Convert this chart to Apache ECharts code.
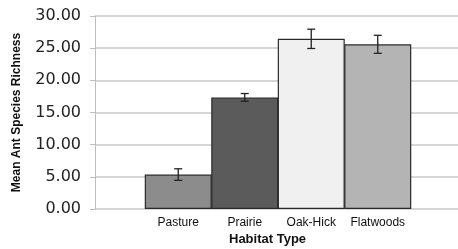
<!DOCTYPE html>
<html>
<head>
<meta charset="utf-8">
<title>Ant species richness</title>
<script src="https://cdn.jsdelivr.net/npm/echarts@6/dist/echarts.min.js"></script>
<style>
  html, body { margin: 0; padding: 0; background: #fff; }
  #main { width: 458px; height: 249px; }
</style>
</head>
<body>
<div id="main"></div>
<script>
// data
var habitats = ['Pasture', 'Prairie', 'Oak-Hick', 'Flatwoods'];
var meanRichness = [5.35, 17.35, 26.45, 25.6];
var stdErr = [0.9, 0.6, 1.5, 1.4];
var barColors = ['#8c8c8c', '#5b5b5b', '#f0f0f0', '#b4b4b4'];
var yTicks = [0, 5, 10, 15, 20, 25, 30];

var byId = function(id) {
  return document.getElementById(id);
};

// error bar ends
var errData = [];
for (var i = 0; i < habitats.length; i++) {
  errData.push([i, meanRichness[i] - stdErr[i], meanRichness[i] + stdErr[i]]);
}

var barData = meanRichness.map(function(v, i) {
  return { value: v, itemStyle: { color: barColors[i] } };
});

var option = {
  animation: false,
  backgroundColor: '#fff',
  grid: [
    // background grid with the y axis + gridlines
    { left: 95, right: 0, top: 16, bottom: 40 },
    // bars sit in a narrower grid
    { left: 145, right: 47, top: 16, bottom: 40 }
  ],
  xAxis: [{
    gridIndex: 0,
    type: 'value',
    show: false,
    min: 0,
    max: 1
  }, {
    gridIndex: 1,
    type: 'category',
    data: habitats,
    axisLine: { show: false },
    axisTick: { show: false },
    axisLabel: {
      interval: 0,
      margin: 8,
      fontFamily: 'Liberation Sans',
      fontSize: 12,
      color: '#111'
    }
  }],
  yAxis: [{
    gridIndex: 0,
    type: 'value',
    min: yTicks[0],
    max: yTicks[yTicks.length - 1],
    interval: 5,
    axisLine: { show: true, lineStyle: { color: '#bdbdbd', width: 1 } },
    axisTick: { show: true, length: 5, lineStyle: { color: '#bdbdbd' } },
    splitLine: { show: true, lineStyle: { color: '#c8c8c8', width: 1.5 } },
    axisLabel: {
      margin: 14,
      fontFamily: 'DejaVu Sans',
      fontSize: 16,
      color: '#222',
      formatter: function(v) { return v.toFixed(2); }
    },
    name: 'Mean Ant Species Richness',
    nameLocation: 'middle',
    nameGap: 72,
    nameTextStyle: {
      fontFamily: 'Liberation Sans',
      fontWeight: 'bold',
      fontSize: 12,
      color: '#111'
    }
  }, {
    gridIndex: 1,
    type: 'value',
    min: 0,
    max: 30,
    show: false
  }],
  graphic: [{
    type: 'text',
    left: 229,
    top: 233,
    style: {
      text: 'Habitat Type',
      font: 'bold 13px "Liberation Sans"',
      fill: '#111'
    }
  }],
  series: [{
    type: 'bar',
    xAxisIndex: 1,
    yAxisIndex: 1,
    barWidth: 67,
    data: barData,
    itemStyle: { borderColor: '#2a2a2a', borderWidth: 1.2 },
    z: 3
  }, {
    type: 'custom',
    xAxisIndex: 1,
    yAxisIndex: 1,
    data: errData,
    z: 5,
    renderItem: function(params, api) {
      var lo = api.coord([api.value(0), api.value(1)]);
      var hi = api.coord([api.value(0), api.value(2)]);
      var w = 4;
      var st = { stroke: '#222', lineWidth: 1.3 };
      return {
        type: 'group',
        children: [
          { type: 'line', shape: { x1: hi[0], y1: hi[1], x2: lo[0], y2: lo[1] }, style: st },
          { type: 'line', shape: { x1: hi[0] - w, y1: hi[1], x2: hi[0] + w, y2: hi[1] }, style: st },
          { type: 'line', shape: { x1: lo[0] - w, y1: lo[1], x2: lo[0] + w, y2: lo[1] }, style: st }
        ]
      };
    }
  }]
};

var chart = echarts.init(byId('main'));
chart.setOption(option);
</script>
</body>
</html>
